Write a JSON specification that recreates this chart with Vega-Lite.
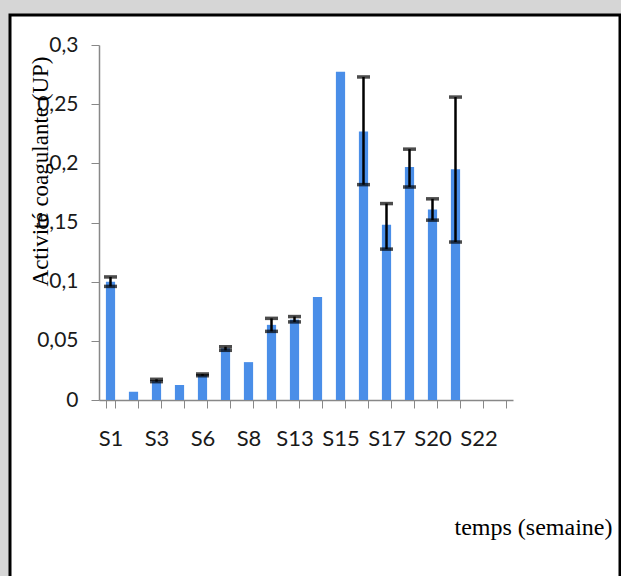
{
  "$schema": "https://vega.github.io/schema/vega-lite/v6.json",
  "width": 610,
  "height": 563,
  "autosize": {"type": "none"},
  "padding": {"left": 10, "top": 15, "right": 1, "bottom": 0},
  "background": "#d6d6d6",
  "config": {"view": {"stroke": "#000000", "strokeWidth": 3, "fill": "#ffffff"}},
  "data": {
    "values": [
      {"cat": "S1", "v": 0.1, "lo": 0.096, "hi": 0.104},
      {"cat": "S2", "v": 0.007},
      {"cat": "S3", "v": 0.016, "lo": 0.0155, "hi": 0.0175},
      {"cat": "S5", "v": 0.0127},
      {"cat": "S6", "v": 0.021, "lo": 0.0205, "hi": 0.022},
      {"cat": "S7", "v": 0.0437, "lo": 0.042, "hi": 0.045},
      {"cat": "S8", "v": 0.032},
      {"cat": "S12", "v": 0.0635, "lo": 0.058, "hi": 0.069},
      {"cat": "S13", "v": 0.068, "lo": 0.066, "hi": 0.0705},
      {"cat": "S14", "v": 0.087},
      {"cat": "S15", "v": 0.2775},
      {"cat": "S16", "v": 0.227, "lo": 0.182, "hi": 0.273},
      {"cat": "S17", "v": 0.148, "lo": 0.1275, "hi": 0.166},
      {"cat": "S19", "v": 0.197, "lo": 0.18, "hi": 0.212},
      {"cat": "S20", "v": 0.161, "lo": 0.152, "hi": 0.17},
      {"cat": "S21", "v": 0.195, "lo": 0.1335, "hi": 0.256}
    ]
  },
  "encoding": {
    "x": {
      "field": "cat",
      "type": "nominal",
      "sort": null,
      "scale": {
        "domain": ["S1","S2","S3","S5","S6","S7","S8","S12","S13","S14","S15","S16","S17","S19","S20","S21","S22","S23"],
        "range": [89, 503],
        "paddingInner": 0.6,
        "paddingOuter": 0.3
      },
      "axis": {
        "title": "temps (semaine)",
        "titleFont": "Liberation Serif",
        "titleFontSize": 24,
        "titleFontWeight": "normal",
        "titleColor": "#000000",
        "titleX": 523,
        "titleY": 127,
        "titleAlign": "center",
        "titleBaseline": "middle",
        "offset": -178,
        "labelAngle": 0,
        "labelFont": "Lato",
        "labelFontSize": 22,
        "labelColor": "#1a1a1a",
        "labelPadding": 20,
        "labelExpr": "indexof(['S1','S3','S6','S8','S13','S15','S17','S20','S22'], datum.value) >= 0 ? datum.value : ''",
        "tickBand": "extent",
        "tickSize": 8,
        "tickColor": "#888888",
        "domainColor": "#888888",
        "domainWidth": 1.5,
        "grid": false
      }
    }
  },
  "layer": [
    {
      "mark": {"type": "bar", "color": "#4a8ee8"},
      "encoding": {
        "y": {
          "field": "v",
          "type": "quantitative",
          "scale": {"domain": [0, 0.3], "range": [385, 30], "nice": false},
          "axis": {
            "title": "Activité coagulante (UP)",
            "titleFont": "Liberation Serif",
            "titleFontSize": 23,
            "titleFontWeight": "normal",
            "titleColor": "#000000",
            "titleX": -59,
            "titleY": 156,
            "titleAlign": "center",
            "titleBaseline": "middle",
            "offset": -89,
            "values": [0, 0.05, 0.1, 0.15, 0.2, 0.25, 0.3],
            "labelExpr": "replace(toString(datum.value), '.', ',')",
            "labelFont": "Lato",
            "labelFontSize": 21,
            "labelColor": "#1a1a1a",
            "labelPadding": 13,
            "tickSize": 8,
            "tickColor": "#888888",
            "domainColor": "#888888",
            "domainWidth": 1.5,
            "grid": false
          }
        }
      }
    },
    {
      "mark": {"type": "rule", "color": "#000000", "strokeWidth": 2.5},
      "encoding": {
        "y": {"field": "lo", "type": "quantitative"},
        "y2": {"field": "hi"}
      }
    },
    {
      "mark": {"type": "tick", "color": "#000000", "thickness": 3.5, "size": 13},
      "encoding": {"y": {"field": "lo", "type": "quantitative"}}
    },
    {
      "mark": {"type": "tick", "color": "#000000", "thickness": 3.5, "size": 13},
      "encoding": {"y": {"field": "hi", "type": "quantitative"}}
    }
  ]
}
